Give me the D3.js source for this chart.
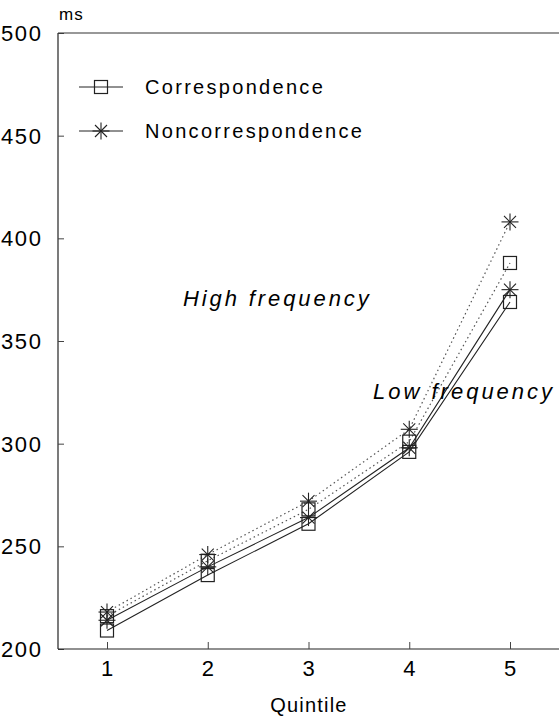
<!DOCTYPE html>
<html>
<head>
<meta charset="utf-8">
<script src="https://cdn.jsdelivr.net/npm/d3@7"></script>
<style>
  html, body { margin: 0; padding: 0; background: #fff; }
  svg { display: block; font-family: "Liberation Sans", Arial, sans-serif; }
</style>
</head>
<body>
<svg id="chart" width="559" height="716"></svg>
<script>
const quintiles = [1, 2, 3, 4, 5];
const highCorr = [216, 243, 268, 301, 388];
const highNonc = [218, 246, 272, 307, 408];
const lowCorr  = [209, 236, 261, 296, 369];
const lowNonc  = [214, 240, 264, 298, 375];
const yTicks = [200, 250, 300, 350, 400, 450, 500];
const legendLabels = ["Correspondence", "Noncorrespondence"];

const series = [
  {values: highCorr, marker: "square", dotted: true},
  {values: highNonc, marker: "star", dotted: true},
  {values: lowCorr, marker: "square", dotted: false},
  {values: lowNonc, marker: "star", dotted: false}
];

(function () {
const svg = d3.select("#chart");
const mLeft = 58, mRight = 559, mTop = 33, mBottom = 649;

const x = d3.scaleLinear().domain([1, 5]).range([107, 510]);
const y = d3.scaleLinear().domain([200, 500]).range([mBottom, mTop]);

// axes
const yAxis = d3.axisRight(y).tickValues(yTicks).tickSize(6).tickFormat("");
const gy = svg.append("g").attr("transform", `translate(${mLeft},0)`).call(yAxis);
gy.select(".domain").attr("d", `M0,${mTop}V${mBottom}`).attr("stroke", "#222").attr("stroke-width", 1.2);
gy.selectAll(".tick line").attr("stroke", "#444");

const xAxis = d3.axisTop(x).tickValues(quintiles).tickSize(7).tickFormat("");
const gx = svg.append("g").attr("transform", `translate(0,${mBottom})`).call(xAxis);
gx.select(".domain").attr("d", `M${mLeft},0H${mRight}`).attr("stroke", "#222").attr("stroke-width", 1.2);
gx.selectAll(".tick line").attr("stroke", "#444");

// top frame line
svg.append("line").attr("x1", mLeft).attr("x2", mRight).attr("y1", mTop).attr("y2", mTop)
  .attr("stroke", "#333").attr("stroke-width", 1.2);

// y tick labels
svg.append("g").selectAll("text").data(yTicks).join("text")
  .attr("x", 1).attr("y", d => y(d) + 8)
  .attr("text-anchor", "start")
  .attr("font-size", 22).attr("letter-spacing", 1.6)
  .attr("fill", "#000")
  .text(d => d);

// x tick labels
svg.append("g").selectAll("text").data(quintiles).join("text")
  .attr("x", d => x(d)).attr("y", 676)
  .attr("text-anchor", "middle")
  .attr("font-size", 22)
  .attr("fill", "#000")
  .text(d => d);

svg.append("text").attr("x", 309).attr("y", 712).attr("text-anchor", "middle")
  .attr("font-size", 20).attr("letter-spacing", 1.2).attr("fill", "#000").text("Quintile");
svg.append("text").attr("x", 59).attr("y", 20)
  .attr("font-size", 17).attr("letter-spacing", 1).attr("fill", "#000").text("ms");

// lines
const line = d3.line().x((d, i) => x(quintiles[i])).y(d => y(d));
series.forEach(s => {
  svg.append("path").datum(s.values).attr("d", line)
    .attr("fill", "none")
    .attr("stroke", s.dotted ? "#555" : "#222")
    .attr("stroke-width", s.dotted ? 1.2 : 1.1)
    .attr("stroke-dasharray", s.dotted ? "1.5,3" : null);
});

function drawMarker(g, type, cx, cy) {
  if (type === "square") {
    g.append("rect").attr("x", cx - 6.5).attr("y", cy - 6.5).attr("width", 13).attr("height", 13)
      .attr("fill", "none").attr("stroke", "#222").attr("stroke-width", 1.2);
  } else {
    const r = 8.5;
    [0, 45, 90, 135].forEach(a => {
      const rad = a * Math.PI / 180;
      g.append("line")
        .attr("x1", cx - r * Math.cos(rad)).attr("y1", cy - r * Math.sin(rad))
        .attr("x2", cx + r * Math.cos(rad)).attr("y2", cy + r * Math.sin(rad))
        .attr("stroke", "#222").attr("stroke-width", 1.1);
    });
  }
}

const mg = svg.append("g");
series.forEach(s => {
  s.values.forEach((v, i) => drawMarker(mg, s.marker, x(quintiles[i]), y(v)));
});

// legend
const legendY = [87, 131];
const legendMarkers = ["square", "star"];
legendLabels.forEach((lab, i) => {
  svg.append("line").attr("x1", 79).attr("x2", 123).attr("y1", legendY[i]).attr("y2", legendY[i])
    .attr("stroke", "#222").attr("stroke-width", 1);
  drawMarker(svg, legendMarkers[i], 101, legendY[i]);
  svg.append("text").attr("x", 145).attr("y", legendY[i] + 7)
    .attr("font-size", 20).attr("letter-spacing", 2.3).attr("fill", "#000").text(lab);
});

// annotations
svg.append("text").attr("x", 183).attr("y", 306)
  .attr("font-size", 22).attr("font-style", "italic").attr("letter-spacing", 2.9)
  .attr("fill", "#000").text("High frequency");
svg.append("text").attr("x", 373).attr("y", 399)
  .attr("font-size", 22).attr("font-style", "italic").attr("letter-spacing", 3)
  .attr("fill", "#000").text("Low frequency");
})();
</script>
</body>
</html>
